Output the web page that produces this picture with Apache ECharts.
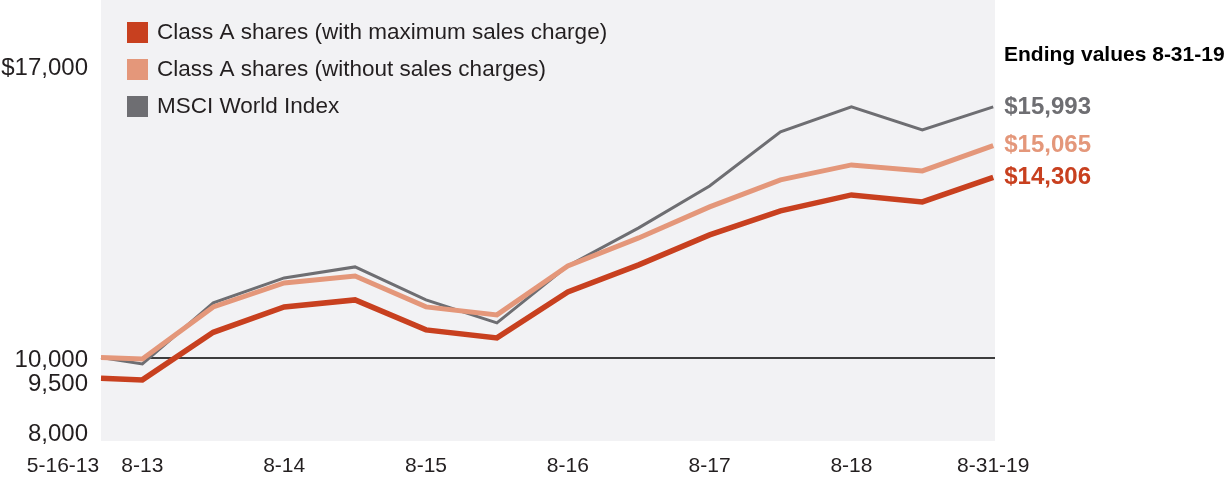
<!DOCTYPE html>
<html>
<head>
<meta charset="utf-8">
<script src="https://cdn.jsdelivr.net/npm/echarts@6/dist/echarts.min.js"></script>
<style>
html,body{margin:0;padding:0;background:#fff;}
#chart{width:1230px;height:483px;}
</style>
</head>
<body>
<div id="chart"></div>
<script>
// Months since 5-16-13 for each data point
const months = [0, 3.5, 9.5, 15.5, 21.5, 27.5, 33.5, 39.5, 45.5, 51.5, 57.5, 63.5, 69.5, 75.5];
const seriesNames = ['Class A shares (with maximum sales charge)', 'Class A shares (without sales charges)', 'MSCI World Index'];
const withCharge = [9500, 9462, 10600, 11208, 11375, 10658, 10467, 11567, 12213, 12930, 13504, 13887, 13720, 14306];
const withoutCharge = [10000, 9964, 11208, 11782, 11949, 11208, 11017, 12189, 12858, 13600, 14246, 14605, 14461, 15065];
const msciWorld = [10000, 9845, 11304, 11902, 12165, 11375, 10825, 12189, 13098, 14102, 15394, 15992, 15442, 15993];
const xTickValues = [0, 3.5, 15.5, 27.5, 39.5, 51.5, 63.5, 75.5];
const xTickLabels = ['5-16-13', '8-13', '8-14', '8-15', '8-16', '8-17', '8-18', '8-31-19'];
const yTickValues = [8000, 9500, 10000, 17000];
const yTickLabels = ['8,000', '9,500', '10,000', '$17,000'];
const endingTitle = 'Ending values 8-31-19';

const FONT = "'Liberation Sans', Arial, sans-serif";
const colors = ['#c8401f', '#e4977a', '#6e6e72'];
const TXT = '#231f20';

function pairs(vals) { return months.map((m, i) => [m, vals[i]]); }
function money(v) { return '$' + v.toLocaleString('en-US'); }

const chart = echarts.init(document.getElementById('chart'), null, {renderer: 'canvas'});
const seriesVals = [withCharge, withoutCharge, msciWorld];
const widths = [5.5, 5, 3];
const zs = [5, 4, 3];
const series = seriesVals.map((vals, i) => ({
  name: seriesNames[i],
  type: 'line',
  data: pairs(vals),
  showSymbol: false,
  symbol: 'none',
  z: zs[i],
  color: colors[i],
  itemStyle: {color: colors[i]},
  lineStyle: {color: colors[i], width: widths[i], join: 'miter'},
  endLabel: {
    show: true,
    formatter: p => money(p.value[1]),
    color: colors[i],
    fontFamily: FONT,
    fontWeight: 'bold',
    fontSize: 24,
    distance: 11
  },
  emphasis: {disabled: true},
  animation: false
}));
series[2].markLine = {
  silent: true,
  symbol: 'none',
  label: {show: false},
  lineStyle: {color: '#000', width: 1.5, type: 'solid'},
  data: [{yAxis: 10000}],
  z: 1
};

const yRich = (pad) => ({fontFamily: FONT, fontSize: 24, color: TXT, padding: pad});

chart.setOption({
  animation: false,
  textStyle: {fontFamily: FONT},
  title: {
    text: endingTitle,
    left: 1004,
    top: 45,
    padding: 0,
    textStyle: {fontFamily: FONT, fontWeight: 'bold', fontSize: 21, color: '#000'}
  },
  legend: {
    data: seriesNames,
    orient: 'vertical',
    left: 127,
    top: 21,
    padding: 0,
    icon: 'rect',
    itemWidth: 21,
    itemHeight: 21,
    itemGap: 14,
    selectedMode: false,
    textStyle: {fontFamily: FONT, fontSize: 22.5, color: TXT, lineHeight: 21, padding: [0, 0, 0, 4]}
  },
  grid: {
    left: 101,
    right: 235,
    top: 0,
    bottom: 42,
    show: true,
    backgroundColor: '#f2f2f4',
    borderWidth: 0,
    containLabel: false,
    outerBoundsMode: 'none'
  },
  xAxis: {
    type: 'value',
    min: 0,
    max: 75.65,
    axisLine: {show: false},
    axisTick: {show: false},
    splitLine: {show: false},
    axisLabel: {
      customValues: xTickValues,
      margin: 15,
      fontFamily: FONT,
      fontSize: 21,
      color: TXT,
      formatter: v => {
        const i = xTickValues.indexOf(v);
        const t = xTickLabels[i];
        return i === 0 ? '{first|' + t + '}' : t;
      },
      rich: {first: {fontFamily: FONT, fontSize: 21, color: TXT, padding: [0, 76, 0, 0]}}
    }
  },
  yAxis: {
    type: 'value',
    min: 8000,
    max: 18550,
    axisLine: {show: false},
    axisTick: {show: false},
    splitLine: {show: false},
    axisLabel: {
      customValues: yTickValues,
      margin: 13,
      fontFamily: FONT,
      fontSize: 24,
      color: TXT,
      formatter: v => {
        const t = yTickLabels[yTickValues.indexOf(v)];
        if (v === 9500) return '{down|' + t + '}';
        if (v === 8000) return '{up|' + t + '}';
        if (v === 17000) return '{top|' + t + '}';
        return '{n|' + t + '}';
      },
      rich: {
        n: yRich([6, 0, 0, 0]),
        top: yRich([8, 0, 0, 0]),
        down: yRich([12, 0, 0, 0]),
        up: yRich([0, 0, 14, 0])
      }
    }
  },
  series: series
});
</script>
</body>
</html>
